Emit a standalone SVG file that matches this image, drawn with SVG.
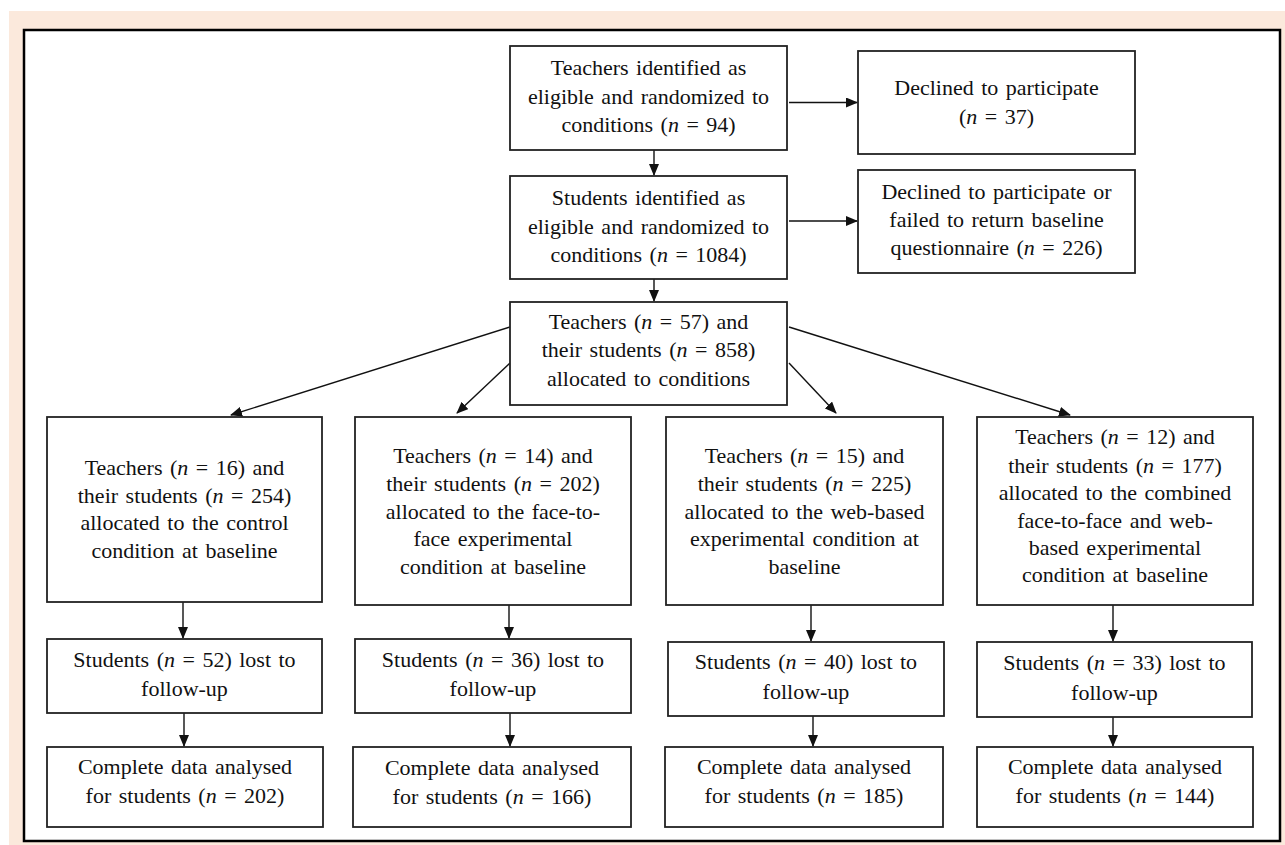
<svg xmlns="http://www.w3.org/2000/svg" width="1285" height="845" viewBox="0 0 1285 845">
<style>
.box{fill:#ffffff;stroke:#222;stroke-width:1.8}
.t{font-family:"Liberation Serif","Times New Roman",serif;font-size:22px;word-spacing:2px;fill:#111;text-anchor:middle}
.i{font-style:italic}
.c{stroke:#111;stroke-width:1.4;fill:none;marker-end:url(#ah)}
</style>
<defs>
<marker id="ah" markerUnits="userSpaceOnUse" markerWidth="12" markerHeight="10" viewBox="0 0 12 10" refX="11" refY="5" orient="auto">
<path d="M0,0 L12,5 L0,10 Z" fill="#111"/>
</marker>
</defs>
<rect x="0" y="0" width="1285" height="845" fill="#ffffff"/>
<rect x="9" y="11" width="1276" height="834" fill="#fbe9dc"/>
<rect x="24" y="30" width="1256" height="811" fill="#ffffff" stroke="#000" stroke-width="2.5"/>

<g id="connectors">
<line class="c" x1="654" y1="150" x2="654" y2="175"/>
<line class="c" x1="654" y1="279" x2="654" y2="301"/>
<line class="c" x1="789" y1="102.5" x2="857" y2="102.5"/>
<line class="c" x1="789" y1="221" x2="857" y2="221"/>
<line class="c" x1="510" y1="327" x2="231" y2="415"/>
<line class="c" x1="510" y1="363" x2="457" y2="413"/>
<line class="c" x1="789" y1="363" x2="836" y2="413"/>
<line class="c" x1="789" y1="327" x2="1070" y2="415"/>
<line class="c" x1="183" y1="602" x2="183" y2="638"/>
<line class="c" x1="184" y1="713" x2="184" y2="746"/>
<line class="c" x1="509" y1="605" x2="509" y2="638"/>
<line class="c" x1="510" y1="713" x2="510" y2="746"/>
<line class="c" x1="811" y1="605" x2="811" y2="641"/>
<line class="c" x1="813" y1="716" x2="813" y2="746"/>
<line class="c" x1="1113" y1="605" x2="1113" y2="641"/>
<line class="c" x1="1113" y1="717" x2="1113" y2="746"/>
</g>

<g id="teachers-eligible">
<rect class="box" x="510" y="46" width="277" height="104"/>
<text class="t" x="648.5" y="75">Teachers identified as</text>
<text class="t" x="648.5" y="103.5">eligible and randomized to</text>
<text class="t" x="648.5" y="132">conditions (<tspan class="i">n</tspan> = 94)</text>
</g>

<g id="declined-teachers">
<rect class="box" x="858" y="51" width="277" height="103"/>
<text class="t" x="996.5" y="95">Declined to participate</text>
<text class="t" x="996.5" y="124">(<tspan class="i">n</tspan> = 37)</text>
</g>

<g id="students-eligible">
<rect class="box" x="510" y="176" width="277" height="103"/>
<text class="t" x="648.5" y="205">Students identified as</text>
<text class="t" x="648.5" y="233.5">eligible and randomized to</text>
<text class="t" x="648.5" y="262">conditions (<tspan class="i">n</tspan> = 1084)</text>
</g>

<g id="declined-students">
<rect class="box" x="858" y="170" width="277" height="103"/>
<text class="t" x="996.5" y="199">Declined to participate or</text>
<text class="t" x="996.5" y="227">failed to return baseline</text>
<text class="t" x="996.5" y="255">questionnaire (<tspan class="i">n</tspan> = 226)</text>
</g>

<g id="allocated">
<rect class="box" x="510" y="302" width="277" height="103"/>
<text class="t" x="648.5" y="329">Teachers (<tspan class="i">n</tspan> = 57) and</text>
<text class="t" x="648.5" y="357">their students (<tspan class="i">n</tspan> = 858)</text>
<text class="t" x="648.5" y="386">allocated to conditions</text>
</g>

<g id="control">
<rect class="box" x="47" y="417" width="275" height="185"/>
<text class="t" x="184.5" y="475">Teachers (<tspan class="i">n</tspan> = 16) and</text>
<text class="t" x="184.5" y="503">their students (<tspan class="i">n</tspan> = 254)</text>
<text class="t" x="184.5" y="530">allocated to the control</text>
<text class="t" x="184.5" y="557.5">condition at baseline</text>
</g>

<g id="face-to-face">
<rect class="box" x="355" y="417" width="276" height="188"/>
<text class="t" x="493" y="463">Teachers (<tspan class="i">n</tspan> = 14) and</text>
<text class="t" x="493" y="491">their students (<tspan class="i">n</tspan> = 202)</text>
<text class="t" x="493" y="518.5">allocated to the face-to-</text>
<text class="t" x="493" y="546">face experimental</text>
<text class="t" x="493" y="574">condition at baseline</text>
</g>

<g id="web-based">
<rect class="box" x="666" y="417" width="277" height="188"/>
<text class="t" x="804.5" y="463">Teachers (<tspan class="i">n</tspan> = 15) and</text>
<text class="t" x="804.5" y="491">their students (<tspan class="i">n</tspan> = 225)</text>
<text class="t" x="804.5" y="518.5">allocated to the web-based</text>
<text class="t" x="804.5" y="546">experimental condition at</text>
<text class="t" x="804.5" y="574">baseline</text>
</g>

<g id="combined">
<rect class="box" x="977" y="417" width="276" height="188"/>
<text class="t" x="1115" y="444">Teachers (<tspan class="i">n</tspan> = 12) and</text>
<text class="t" x="1115" y="472.5">their students (<tspan class="i">n</tspan> = 177)</text>
<text class="t" x="1115" y="500">allocated to the combined</text>
<text class="t" x="1115" y="527.5">face-to-face and web-</text>
<text class="t" x="1115" y="555">based experimental</text>
<text class="t" x="1115" y="582">condition at baseline</text>
</g>

<g id="lost-control">
<rect class="box" x="47" y="639" width="275" height="74"/>
<text class="t" x="184.5" y="667">Students (<tspan class="i">n</tspan> = 52) lost to</text>
<text class="t" x="184.5" y="696">follow-up</text>
</g>

<g id="lost-face">
<rect class="box" x="355" y="639" width="276" height="74"/>
<text class="t" x="493" y="667">Students (<tspan class="i">n</tspan> = 36) lost to</text>
<text class="t" x="493" y="696">follow-up</text>
</g>

<g id="lost-web">
<rect class="box" x="668" y="642" width="276" height="74"/>
<text class="t" x="806" y="669">Students (<tspan class="i">n</tspan> = 40) lost to</text>
<text class="t" x="806" y="698.5">follow-up</text>
</g>

<g id="lost-combined">
<rect class="box" x="977" y="642" width="275" height="75"/>
<text class="t" x="1114.5" y="670">Students (<tspan class="i">n</tspan> = 33) lost to</text>
<text class="t" x="1114.5" y="699.5">follow-up</text>
</g>

<g id="complete-control">
<rect class="box" x="47" y="747" width="276" height="80"/>
<text class="t" x="185" y="774">Complete data analysed</text>
<text class="t" x="185" y="803">for students (<tspan class="i">n</tspan> = 202)</text>
</g>

<g id="complete-face">
<rect class="box" x="353" y="747" width="278" height="80"/>
<text class="t" x="492" y="775">Complete data analysed</text>
<text class="t" x="492" y="804">for students (<tspan class="i">n</tspan> = 166)</text>
</g>

<g id="complete-web">
<rect class="box" x="665" y="747" width="278" height="80"/>
<text class="t" x="804" y="774">Complete data analysed</text>
<text class="t" x="804" y="803">for students (<tspan class="i">n</tspan> = 185)</text>
</g>

<g id="complete-combined">
<rect class="box" x="977" y="747" width="276" height="80"/>
<text class="t" x="1115" y="774">Complete data analysed</text>
<text class="t" x="1115" y="803">for students (<tspan class="i">n</tspan> = 144)</text>
</g>
</svg>
